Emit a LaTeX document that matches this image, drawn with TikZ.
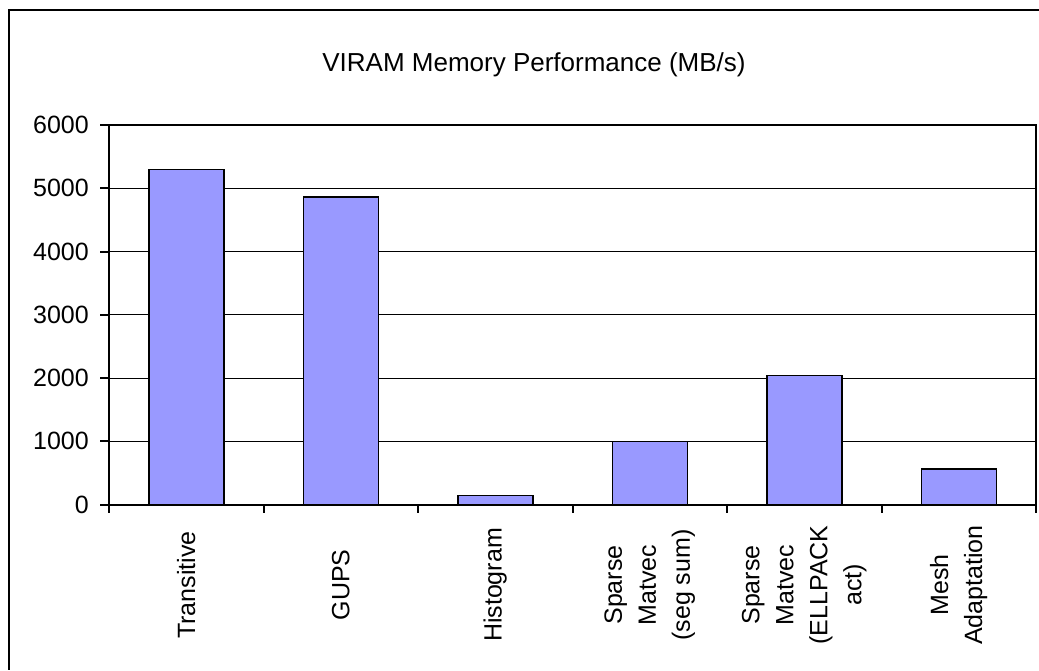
\documentclass[tikz,border=0pt]{standalone}
\usepackage{fontspec}
\setmainfont{Liberation Sans}
\usetikzlibrary{positioning}
\definecolor{barblue}{HTML}{9999FF}

\begin{document}
\begin{tikzpicture}[x=1pt,y=-1pt,font=\fontsize{25}{34}\selectfont,
  bar/.style={draw,line width=1.5pt,fill=barblue},
  gridline/.style={line width=1pt},
  axis/.style={line width=2pt},
  catlabel/.style={rotate=90,align=center,inner sep=0pt}]
\useasboundingbox (0,0) rectangle (1039,670);
\draw[axis] (1039,10) -- (9,10) -- (9,670);
\node (title) at (534,65) {\fontsize{26}{34}\selectfont VIRAM Memory Performance (MB/s)};

% grid and value axis
\foreach \v in {1000,2000,...,5000}
  \draw[gridline] (109,504.5-\v*0.06325) -- (1036,504.5-\v*0.06325);
\foreach \v in {0,1000,...,6000} {
  \draw[axis] (100,504.5-\v*0.06325) -- (109,504.5-\v*0.06325);
  \node[anchor=east,inner sep=0pt] (y\v) at (89,504.5-\v*0.06325) {\v};
}

% bars
\foreach \i/\v in {1/5300,2/4860,3/140,4/1000,5/2040,6/560}
  \draw[bar] (109+\i*154.5-77.25-37.5,504.5) rectangle (109+\i*154.5-77.25+37.5,504.5-\v*0.06325);

\draw[axis] (109,125) rectangle (1036,504.5);
\foreach \k in {0,...,6}
  \draw[axis] (109+\k*154.5,504.5) -- (109+\k*154.5,513);

% category labels
\foreach \i/\t in {1/Transitive,2/GUPS,3/Histogram,4/{Sparse\\Matvec\\(seg sum)},5/{Sparse\\Matvec\\(ELLPACK\\act)},6/{Mesh\\Adaptation}}
  \node[catlabel] (cat\i) at (109+\i*154.5-77.25,585) {\t};
\end{tikzpicture}
\end{document}
